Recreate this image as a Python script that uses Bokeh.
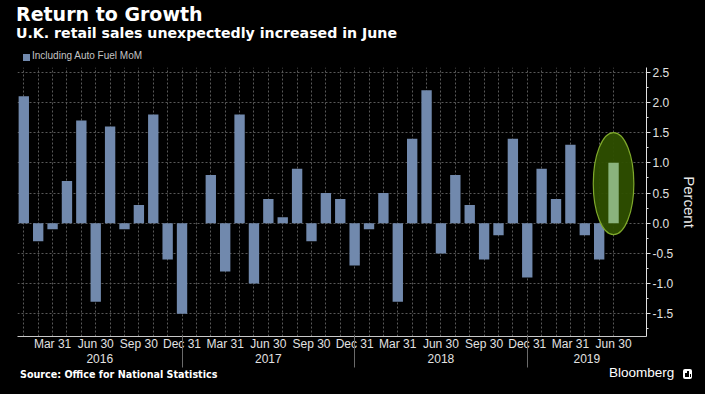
from bokeh.plotting import figure
from bokeh.layouts import column
from bokeh.models import (ColumnDataSource, FixedTicker, LinearAxis, Range1d, Div,
                          NumeralTickFormatter)
from bokeh.embed import file_html
from bokeh.resources import INLINE

# ---------------- data ----------------
months = [f"{y}-{m:02d}" for y in (2016, 2017, 2018) for m in range(1, 13)] + \
         [f"2019-{m:02d}" for m in range(1, 7)]
mom_pct = [2.1, -0.3, -0.1, 0.7, 1.7, -1.3, 1.6, -0.1, 0.3, 1.8, -0.6, -1.5,
           0.0, 0.8, -0.8, 1.8, -1.0, 0.4, 0.1, 0.9, -0.3, 0.5, 0.4, -0.7,
           -0.1, 0.5, -1.3, 1.4, 2.2, -0.5, 0.8, 0.3, -0.6, -0.2, 1.4, -0.9,
           0.9, 0.4, 1.3, -0.2, -0.6, 1.0]
quarter_labels = ["Mar 31", "Jun 30", "Sep 30", "Dec 31"] * 3 + ["Mar 31", "Jun 30"]
years = ["2016", "2017", "2018", "2019"]
y_ticks = [-1.5, -1.0, -0.5, 0.0, 0.5, 1.0, 1.5, 2.0, 2.5]
highlight_month = "2019-06"
title = "Return to Growth"
subtitle = "U.K. retail sales unexpectedly increased in June"
series_name = "Including Auto Fuel MoM"
source_note = "Source: Office for National Statistics"

BAR = "#7189ad"
HIGHLIGHT = "#8ab37d"
W = 705
HEAD_H, FOOT_H = 63, 26
MAIN_H = 394 - HEAD_H - FOOT_H

xs = list(range(len(months)))
quarter_pos = [i for i, m in enumerate(months) if int(m[5:]) in (3, 6, 9, 12)]
sep_pos = [i for i, m in enumerate(months) if m.endswith("-12")]
x_start, x_end = -0.438, 43.29
bounds = [x_start] + sep_pos + [x_end]
year_pos = [round((bounds[i] + bounds[i + 1]) / 2, 2) for i in range(len(years))]
hi = months.index(highlight_month)

src = ColumnDataSource(dict(x=xs, v=mom_pct, month=months))
src_hi = ColumnDataSource(dict(x=[xs[hi]], v=[mom_pct[hi]]))


def span(txt, left, top, font, color="#ffffff"):
    return (f'<span style="position:absolute;left:{left}px;top:{top}px;font:{font};'
            f'line-height:1;color:{color};white-space:nowrap;">{txt}</span>')


def box(left, top, w, h, color, radius=0):
    return (f'<span style="position:absolute;left:{left}px;top:{top}px;width:{w}px;'
            f'height:{h}px;background:{color};border-radius:{radius}px;"></span>')


def panel(h, inner):
    return Div(text=f'<div style="position:relative;width:{W}px;height:{h}px;">{inner}</div>',
               width=W, height=h, margin=0,
               styles={"background-color": "black", "overflow": "visible"})


# ---------------- header ----------------
head = panel(HEAD_H,
             span(title, 16, 4.6, "bold 19px 'DejaVu Sans'") +
             span(subtitle, 16, 25.8, "bold 14.15px 'DejaVu Sans'") +
             box(23, 54, 7, 7, BAR) +
             span(series_name, 32, 51, "10px 'Liberation Sans'", "#c4c4c4"))

# ---------------- main chart ----------------
p = figure(width=W, height=MAIN_H, x_range=Range1d(x_start, x_end),
           y_range=Range1d(-1.876, 2.578), y_axis_location="right",
           output_backend="svg", toolbar_location=None,
           background_fill_color="black", border_fill_color="black",
           min_border_left=17, min_border_right=59, min_border_top=4,
           min_border_bottom=MAIN_H - 4 - 269)
p.outline_line_color = None

p.xgrid.ticker = FixedTicker(ticks=xs)
p.ygrid.ticker = FixedTicker(ticks=y_ticks)
for g in (p.xgrid[0], p.ygrid[0]):
    g.grid_line_color = "#585858"
    g.grid_line_dash = "2 2"
    g.grid_line_width = 1

bars = p.vbar(x="x", top="v", bottom=0, width=0.72, source=src,
              fill_color=BAR, line_color=None)
p.ellipse(x=xs[hi], y=(mom_pct[hi] + 0.5 - 0.19) / 2, width=2.82,
          height=mom_pct[hi] + 0.5 + 0.19, fill_color="#2e4f00",
          fill_alpha=0.95, line_color="#7ea82a", line_width=1.2)
p.vbar(x="x", top="v", bottom=0, width=0.72, source=src_hi,
       fill_color=HIGHLIGHT, line_color=None)

LABEL_C = "#e2e2e2"

xa = p.xaxis[0]
xa.ticker = FixedTicker(ticks=quarter_pos)
xa.major_label_overrides = {q: lab for q, lab in zip(quarter_pos, quarter_labels)}
xa.major_tick_in = 0
xa.major_tick_out = 0
xa.minor_tick_in = 0
xa.minor_tick_out = 0
xa.axis_line_color = "#c8c8c8"
xa.major_label_standoff = 0
xa.major_label_text_font = "Liberation Sans"
xa.major_label_text_font_size = "12px"
xa.major_label_text_color = LABEL_C

yr = LinearAxis(ticker=FixedTicker(ticks=year_pos),
                major_label_overrides={yp: y for yp, y in zip(year_pos, years)})
yr.axis_line_color = None
yr.major_tick_line_color = None
yr.minor_tick_line_color = None
yr.major_tick_in = 0
yr.major_tick_out = 0
yr.minor_tick_in = 0
yr.minor_tick_out = 0
yr.major_label_standoff = 0
yr.major_label_text_font = "Liberation Sans"
yr.major_label_text_font_size = "12px"
yr.major_label_text_color = LABEL_C
p.add_layout(yr, "below")

sep = LinearAxis(ticker=FixedTicker(ticks=[], minor_ticks=sep_pos))
sep.axis_line_color = None
sep.major_tick_line_color = None
sep.major_tick_in = 0
sep.major_tick_out = 0
sep.minor_tick_in = 30
sep.minor_tick_out = 2
sep.minor_tick_line_color = "#6a6a6a"
sep.major_label_standoff = 0
sep.major_label_text_font_size = "0px"
p.add_layout(sep, "below")

ya = p.yaxis[0]
minor = [t + 0.25 * k for t in y_ticks for k in (0, 1)] + [-1.75]
ya.ticker = FixedTicker(ticks=y_ticks, minor_ticks=minor)
ya.formatter = NumeralTickFormatter(format="0.0")
ya.axis_line_color = "#e0e0e0"
ya.major_tick_line_color = "#e0e0e0"
ya.minor_tick_line_color = "#e0e0e0"
ya.major_tick_in = 0
ya.major_tick_out = 4
ya.minor_tick_in = 0
ya.minor_tick_out = 2
ya.major_label_standoff = 2
ya.major_label_text_font = "Liberation Sans"
ya.major_label_text_font_size = "12px"
ya.major_label_text_color = LABEL_C
ya.axis_label = "Percent"
ya.axis_label_standoff = 5
ya.axis_label_text_font = "Liberation Sans"
ya.axis_label_text_font_size = "15px"
ya.axis_label_text_font_style = "normal"
ya.axis_label_text_color = "#e8e8e8"

# ---------------- footer ----------------
logo = (box(683, 1, 9, 10, "#ffffff", 2) + box(685, 5, 1.5, 4, "#000000") +
        box(687.3, 3, 1.5, 6, "#000000") + box(689.6, 6, 1.5, 3, "#000000"))
foot = panel(FOOT_H,
             span(source_note, 20, 2.1, "bold 9.6px 'DejaVu Sans'") +
             span("Bloomberg", 609, -2.4, "13.5px 'Liberation Sans'") + logo)

layout = column(head, p, foot, spacing=0)
html = file_html(layout, INLINE)
html = html.replace("<head>", "<head><style>body{background:#000;}</style>", 1)
open("out.html", "w").write(html)
